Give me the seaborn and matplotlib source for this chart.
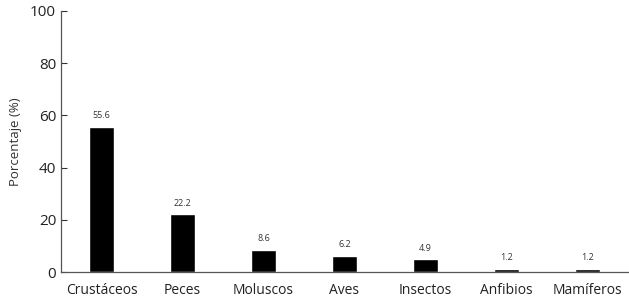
import pandas as pd
import matplotlib
matplotlib.use('Agg')
import matplotlib.pyplot as plt
import seaborn as sns

# Data
grupos = ['Crustáceos', 'Peces', 'Moluscos', 'Aves', 'Insectos', 'Anfibios', 'Mamíferos']
porcentajes = [55.6, 22.2, 8.6, 6.2, 4.9, 1.2, 1.2]
etiquetas = ['55.6', '22.2', '8.6', '6.2', '4.9', '1.2', '1.2']

df = pd.DataFrame({'Grupo': grupos, 'Porcentaje': porcentajes})

sns.set_style('white')
plt.rcParams['font.family'] = ['Open Sans', 'DejaVu Sans']

fig = plt.figure(figsize=(6.29, 3.02), dpi=100)
ax = fig.add_axes([0.097, 0.099, 0.901, 0.865])

sns.barplot(x='Grupo', y='Porcentaje', data=df, color='black', width=0.31,
            saturation=1, ax=ax)

for i, (v, t) in enumerate(zip(porcentajes, etiquetas)):
    ax.text(i, v + 2.5, t, ha='center', va='bottom', fontsize=6.5, color='#333333')

ax.set_ylim(0, 100)
ax.set_xlim(-0.5, 6.5)
ax.set_yticks([0, 20, 40, 60, 80, 100])
ax.set_xlabel('')
ax.set_ylabel('Porcentaje (%)', fontsize=9.5, color='#333333', labelpad=6)
ax.tick_params(axis='y', direction='in', length=4, width=0.8, labelsize=11,
               left=True, colors='#333333', labelcolor='#222222')
ax.tick_params(axis='x', length=0, labelsize=10, labelcolor='#222222', pad=8)

sns.despine(ax=ax)
for s in ['left', 'bottom']:
    ax.spines[s].set_color('#555555')
    ax.spines[s].set_linewidth(0.9)

fig.savefig('out.png', dpi=100)
